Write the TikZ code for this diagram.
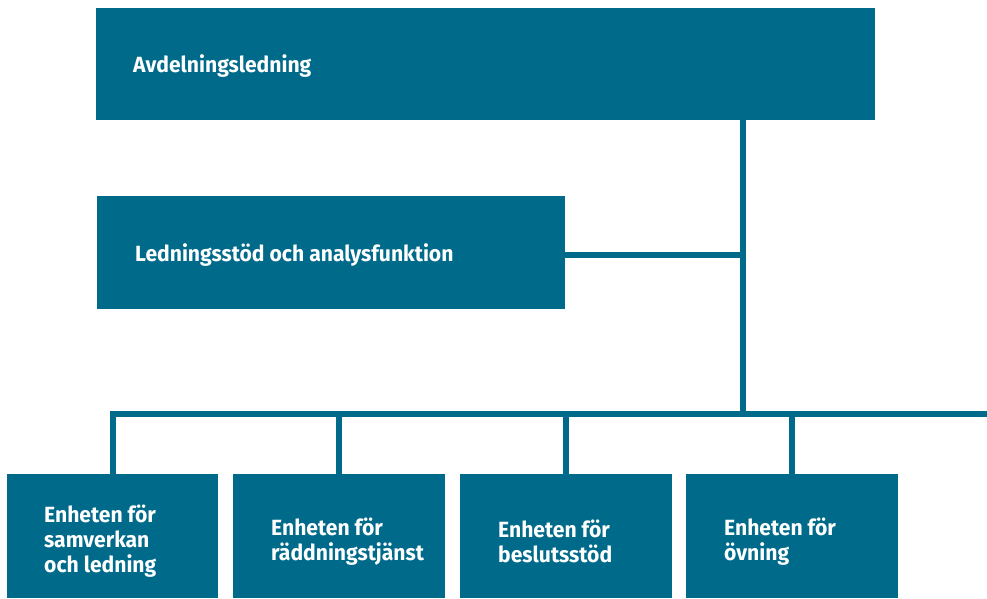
\documentclass[tikz,border=0pt]{standalone}
\usepackage{fontspec}
\setmainfont{Fira Sans}[FakeStretch=0.96]
\definecolor{teal}{HTML}{006A8A}
\begin{document}
\begin{tikzpicture}[x=1pt,y=-1pt,
  box/.style={fill=teal,anchor=north west,inner sep=0pt},
  lbl/.style={anchor=west,text=white,font=\fontsize{22}{25}\selectfont\bfseries,
    align=left,inner sep=0pt,yshift=-5pt},
  conn/.style={draw=teal,line width=6pt}]
\useasboundingbox (0,0) rectangle (987,599);
\node[box,minimum width=779pt,minimum height=112pt] (top) at (96,8) {};
\node[box,minimum width=468pt,minimum height=113pt] (mid) at (97,196) {};
\node[box,minimum width=211pt,minimum height=124pt] (b1) at (7,474) {};
\node[box,minimum width=212pt,minimum height=124pt] (b2) at (233,474) {};
\node[box,minimum width=212pt,minimum height=124pt] (b3) at (460,474) {};
\node[box,minimum width=212pt,minimum height=124pt] (b4) at (686,474) {};
\node[lbl,xshift=37pt,yshift=3pt] (ttop) at (top.west) {Avdelningsledning};
\node[lbl,xshift=38pt,yshift=3pt] (tmid) at (mid.west) {Ledningsstöd och analysfunktion};
\node[lbl,xshift=37pt] (t1) at (b1.west) {Enheten för\\samverkan\\och ledning};
\node[lbl,xshift=38pt] (t2) at (b2.west) {Enheten för\\räddningstjänst};
\node[lbl,xshift=38pt] (t3) at (b3.west) {Enheten för\\beslutsstöd};
\node[lbl,xshift=38pt] (t4) at (b4.west) {Enheten för\\övning};
\coordinate (j1) at (742.5,414);
\coordinate (busend) at (987,414);
\coordinate (jmid) at (742.5,255);
\draw[conn] (j1 |- top.south) ++(0,-23) -- (j1);
\draw[conn] (mid.east |- jmid) -- (jmid);
\draw[conn,line join=miter] (b1.north) -- (b1.north |- j1) -- (busend);
\draw[conn] (b2.north) -- (b2.north |- j1);
\draw[conn] (b3.north) -- (b3.north |- j1);
\draw[conn] (b4.north) -- (b4.north |- j1);
\end{tikzpicture}
\end{document}
